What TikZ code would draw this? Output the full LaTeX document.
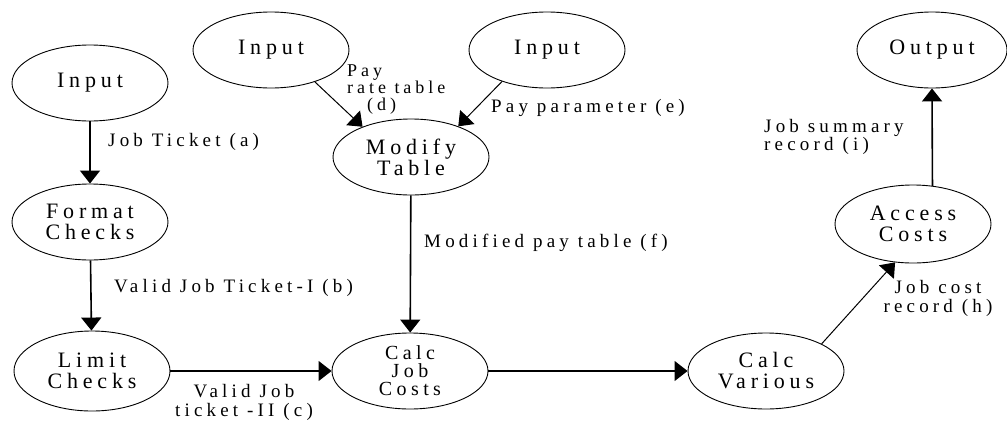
\documentclass[tikz,border=0pt]{standalone}
\usepackage{fontspec}
\setmainfont{Liberation Serif}[LetterSpace=22]
\usetikzlibrary{shapes.geometric,arrows.meta}
\tikzset{
  proc/.style={draw, ellipse, line width=0.9pt, minimum width=156pt, minimum height=76pt,
    inner sep=-4pt, align=center, font=\fontsize{22}{21}\selectfont},
  lbl/.style={inner sep=0pt, font=\fontsize{19}{19}\selectfont},
  flow/.style={-{Triangle[width=20pt,length=13pt]}, line width=1.6pt},
}
\begin{document}
\begin{tikzpicture}[x=1pt,y=-1pt]
        \useasboundingbox (0,0) rectangle (1007,421);
        \path
        (90,83) node[proc] (in1) {Input}
        (271,50) node[proc] (in2) {Input}
        (547,50) node[proc] (in3) {Input}
        (932,50) node[proc, minimum width=150pt] (out) {Output}
        (411,157) node[proc] (mod) {Modify\\Table}
        (90,222) node[proc] (fmt) {Format\\Checks}
        (92,371) node[proc, minimum height=80pt] (lim) {Limit\\Checks}
        (410,371) node[proc, font=\fontsize{20}{18}\selectfont] (cjc) {Calc\\Job\\Costs}
        (766,371) node[proc] (cvar) {Calc\\Various}
        (913,224) node[proc, minimum height=78pt] (acc) {Access\\Costs}
        ;
        \path
        (108,142) node[lbl, anchor=west] (la) {Job Ticket (a)}
        (114,288) node[lbl, anchor=west] (lb) {Valid Job Ticket-I (b)}
        (244,402) node[lbl, align=center] (lc) {Valid Job\\ticket -II (c)}
        (347,90) node[lbl, align=left, anchor=west, font=\fontsize{18}{17}\selectfont] (ld) {Pay\\rate table\\\hspace{20pt}(d)}
        (491,108) node[lbl, anchor=west] (le) {Pay parameter (e)}
        (424,243) node[lbl, anchor=west] (lf) {Modified pay table (f)}
        (938,298) node[lbl, align=center] (lh) {Job cost\\record (h)}
        (764,137) node[lbl, align=left, anchor=west, font=\fontsize{19}{17}\selectfont] (li) {Job summary\\record (i)}
        ;
        \draw[flow] (in1) -- (fmt);
        \draw[flow] (fmt) -- (lim);
        \draw[flow, line width=1.2pt] (lim) -- (cjc);
        \draw[flow, line width=1pt] (in2.324) -- (mod.148);
        \draw[flow, line width=1pt] (in3.215) -- (mod.33);
        \draw[flow] (mod) -- (cjc);
        \draw[flow, line width=1.2pt] (cjc) -- (cvar);
        \draw[flow, line width=1pt] (cvar.26) -- (acc.245);
        \draw[flow] (acc.63) -- (out.south);
\end{tikzpicture}
\end{document}
